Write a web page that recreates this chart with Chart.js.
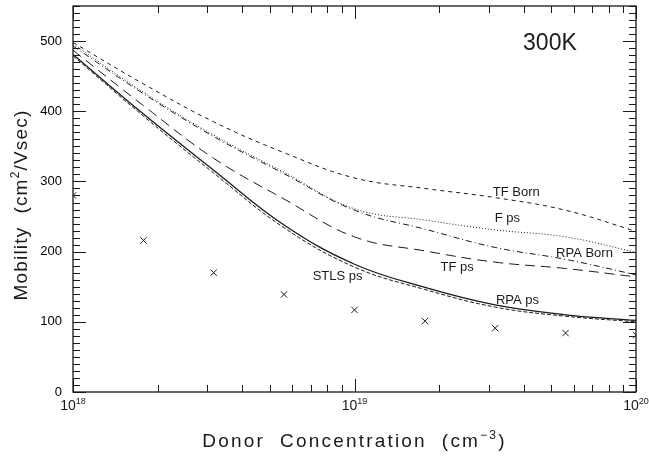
<!DOCTYPE html>
<html>
<head>
<meta charset="utf-8">
<script src="https://cdn.jsdelivr.net/npm/chart.js@4"></script>
<style>
  html, body { margin: 0; padding: 0; background: #fff; }
  #mobilityChart { display: block; }
</style>
</head>
<body>
<canvas id="mobilityChart" width="649" height="456"></canvas>
<script>
// donor concentration (cm^-3) where the curves were read
const concentration = [1e18, 1.78e18, 3.16e18, 5.62e18, 1e19, 1.78e19, 3.16e19, 5.62e19, 1e20];

// mobility (cm^2/Vsec) for every model
const tfBorn = [498, 439, 385, 341, 305, 290, 277, 259, 229];
const fPs = [496, 427, 366, 313, 261, 245, 231, 221, 199];
const rpaBorn = [493, 425, 364, 311, 259, 232, 206, 189, 167];
const tfPs = [487, 408, 333, 275, 221, 201, 185, 176, 164];
const rpaPs = [481, 396, 316, 238, 182, 149, 124, 110, 102];
const stlsPs = [479, 393, 312, 234, 178, 146, 121, 108, 100];

// measured points (crosses)
const measured = [280, 216, 170, 139, 117, 101, 91, 84, 81];

const decades = [18, 19, 20];
const ink = "#1a1a1a";

const pairs = (ys) => ys.map((v, i) => ({ x: concentration[i], y: v }));

const curve = (label, values, dash, width) => ({
  label,
  data: pairs(values),
  borderColor: ink,
  borderWidth: width || 1,
  borderDash: dash,
  pointRadius: 0,
  fill: false,
  tension: 0.4,
  clip: 0,
});

// labels that sit next to the curves, anchored in data space
const notes = [
  { text: "300K", x: 3.97e19, y: 496, size: 23 },
  { text: "TF Born", x: 3.1e19, y: 284, size: 13 },
  { text: "F ps", x: 3.15e19, y: 248, size: 13 },
  { text: "RPA Born", x: 5.2e19, y: 197, size: 13 },
  { text: "TF ps", x: 2.02e19, y: 178, size: 13 },
  { text: "STLS ps", x: 7.1e18, y: 164, size: 13 },
  { text: "RPA ps", x: 3.18e19, y: 131, size: 13 },
];

// draws text runs, some of them raised as superscripts
const drawRuns = (ctx, runs, cx, cy, size, spacing) => {
  const sup = Math.round(size * 0.62);
  ctx.letterSpacing = spacing + "px";
  let total = 0;
  runs.forEach(([t, isSup]) => {
    ctx.font = `${isSup ? sup : size}px "Liberation Sans", Arial, sans-serif`;
    total += ctx.measureText(t).width;
  });
  let px = cx - total / 2;
  runs.forEach(([t, isSup]) => {
    ctx.font = `${isSup ? sup : size}px "Liberation Sans", Arial, sans-serif`;
    ctx.fillText(t, px, isSup ? cy - size * 0.42 : cy);
    px += ctx.measureText(t).width;
  });
  ctx.letterSpacing = "0px";
};

const framePlugin = {
  id: "frame",
  afterDraw(chart) {
    const { ctx, chartArea: a, scales } = chart;
    const x = scales.x;
    const y = scales.y;
    ctx.save();
    ctx.strokeStyle = ink;
    ctx.fillStyle = ink;
    ctx.lineWidth = 1.3;
    ctx.strokeRect(a.left, a.top, a.right - a.left, a.bottom - a.top);

    ctx.lineWidth = 1;
    ctx.beginPath();
    for (let v = 0; v <= 550; v += 10) {
      const py = Math.round(y.getPixelForValue(v)) + 0.5;
      const len = v % 100 === 0 ? 13 : 7;
      ctx.moveTo(a.left, py);
      ctx.lineTo(a.left + len, py);
      ctx.moveTo(a.right, py);
      ctx.lineTo(a.right - len, py);
    }
    decades.forEach((d, k) => {
      for (let m = 1; m <= 9; m++) {
        if (k === decades.length - 1 && m > 1) break;
        const px = Math.round(x.getPixelForValue(m * Math.pow(10, d))) + 0.5;
        const len = m === 1 ? 13 : 7;
        ctx.moveTo(px, a.bottom);
        ctx.lineTo(px, a.bottom - len);
        ctx.moveTo(px, a.top);
        ctx.lineTo(px, a.top + len);
      }
    });
    ctx.stroke();

    // x tick labels 10^n
    ctx.textBaseline = "alphabetic";
    ctx.textAlign = "left";
    decades.forEach((d) => {
      const px = x.getPixelForValue(Math.pow(10, d));
      drawRuns(ctx, [["10", false], [String(d), true]], px, a.bottom + 18, 14, 0);
    });

    // axis titles
    drawRuns(ctx, [["Donor  Concentration  (cm", false], ["−3", true], [")", false]],
      (a.left + a.right) / 2, 447, 19, 2.2);
    ctx.save();
    ctx.translate(27, 205);
    ctx.rotate(-Math.PI / 2);
    drawRuns(ctx, [["Mobility  (cm", false], ["2", true], ["/Vsec)", false]], 0, 0, 19, 1.2);
    ctx.restore();

    // curve names
    ctx.textBaseline = "middle";
    notes.forEach((n) => {
      ctx.font = `${n.size}px "Liberation Sans", Arial, sans-serif`;
      ctx.fillText(n.text, x.getPixelForValue(n.x), y.getPixelForValue(n.y));
    });
    ctx.restore();
  },
};

new Chart(document.getElementById("mobilityChart"), {
  type: "line",
  data: {
    datasets: [
      curve("TF Born", tfBorn, [4, 4]),
      curve("F ps", fPs, [1, 2]),
      curve("RPA Born", rpaBorn, [6, 3, 1, 3]),
      curve("TF ps", tfPs, [10, 6]),
      curve("STLS ps", stlsPs, [4, 2]),
      curve("RPA ps", rpaPs, [], 1.3),
      {
        label: "measured",
        data: pairs(measured),
        showLine: false,
        pointStyle: "crossRot",
        pointRadius: 4.5,
        borderColor: ink,
        borderWidth: 1,
        clip: 0,
      },
    ],
  },
  options: {
    responsive: false,
    devicePixelRatio: 1,
    animation: false,
    layout: { padding: { top: 6, right: 13, left: 0, bottom: 0 } },
    plugins: { legend: { display: false }, tooltip: { enabled: false } },
    scales: {
      x: {
        type: "logarithmic",
        min: 1e18,
        max: 1e20,
        grid: { display: false, drawTicks: false },
        border: { display: false },
        ticks: { display: false },
        afterFit: (scale) => {
          scale.height = 64;
          scale.paddingLeft = 0;
          scale.paddingRight = 0;
        },
      },
      y: {
        min: 0,
        max: 550,
        grid: { display: false, drawTicks: false },
        border: { display: false },
        ticks: {
          stepSize: 100,
          includeBounds: false,
          padding: 11,
          color: "#000",
          font: { size: 13, family: '"Liberation Sans", Arial, sans-serif' },
        },
        afterFit: (scale) => {
          scale.width = 73;
          scale.paddingTop = 0;
          scale.paddingBottom = 0;
        },
      },
    },
  },
  plugins: [framePlugin],
});
</script>
</body>
</html>
